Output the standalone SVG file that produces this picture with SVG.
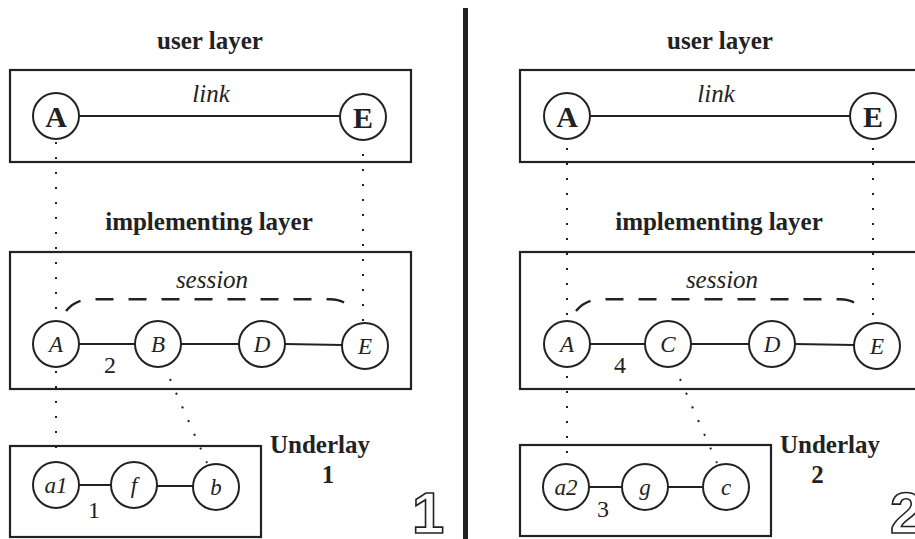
<svg xmlns="http://www.w3.org/2000/svg" width="915" height="539" viewBox="0 0 915 539">
<style>
.box{fill:none;stroke:#222;stroke-width:2.2}
.node circle{fill:#fff;stroke:#222;stroke-width:2}
.edge{stroke:#222;stroke-width:2;fill:none}
.dot{stroke:#222;stroke-width:2;stroke-dasharray:2 13;fill:none}
.dash{stroke:#222;stroke-width:2.4;stroke-dasharray:18 15;fill:none}
text{font-family:'Liberation Serif','Times New Roman',Tinos,'Noto Serif','DejaVu Serif',serif;fill:#222;text-anchor:middle}
.hdr{font-weight:bold;font-size:25px}
.it{font-style:italic;font-size:25px}
.bn{font-weight:bold;font-size:30px}
.lab{font-style:italic;font-size:23px}
.num{font-size:24px}
.out{font-family:'Liberation Sans',Arial,Arimo,Roboto,sans-serif;font-weight:bold;font-size:58px;fill:#fff;stroke:#222;stroke-width:1.6;text-anchor:start}
</style>
<rect width="915" height="539" fill="#fff"/>
<line x1="465.5" y1="8" x2="465.5" y2="539" stroke="#222" stroke-width="5"/>
<g id="layers">
<rect class="box" x="10" y="70" width="401" height="92"/>
<rect class="box" x="10" y="252" width="401" height="137"/>
<rect class="box" x="10" y="446" width="251" height="91"/>
<rect class="box" x="520" y="70" width="401" height="92"/>
<rect class="box" x="520" y="252" width="401" height="137"/>
<rect class="box" x="520" y="445" width="251" height="91"/>
<text class="hdr" x="210" y="49">user layer</text>
<text class="hdr" x="720" y="49">user layer</text>
<text class="hdr" x="209" y="230">implementing layer</text>
<text class="hdr" x="719" y="230">implementing layer</text>
<text class="hdr" x="320" y="453">Underlay</text>
<text class="hdr" x="328" y="483">1</text>
<text class="hdr" x="830" y="453">Underlay</text>
<text class="hdr" x="817.5" y="483">2</text>
<text class="out" x="412" y="533">1</text>
<text class="out" x="890" y="533">2</text>
</g>
<g id="connectors">
<line class="edge" x1="79" y1="116" x2="340" y2="116"/>
<line class="edge" x1="79" y1="344" x2="135" y2="344"/>
<line class="edge" x1="181" y1="344" x2="239" y2="344"/>
<line class="edge" x1="285" y1="344" x2="342" y2="345"/>
<line class="edge" x1="79" y1="485" x2="111" y2="485"/>
<line class="edge" x1="157" y1="486" x2="193" y2="486"/>
<line class="edge" x1="590" y1="116" x2="850" y2="116"/>
<line class="edge" x1="590" y1="344" x2="645" y2="344"/>
<line class="edge" x1="691" y1="344" x2="749" y2="344"/>
<line class="edge" x1="795" y1="344" x2="854" y2="345"/>
<line class="edge" x1="589" y1="487" x2="622" y2="487"/>
<line class="edge" x1="668" y1="487" x2="703" y2="487"/>
<path class="dot" d="M56 142V312M56 371V449M363 154V322M170 379L207 463"/>
<path class="dot" d="M567 148V318M567 376V455M873 148V320M680 379L717 463"/>
<path class="dash" d="M66 311C72 304 79 299.5 92 299.3L330 299.3C342 299.5 348 304 354 311"/>
<path class="dash" d="M576 311C582 304 589 299.5 602 299.3L840 299.3C852 299.5 858 304 864 311"/>
<text class="it" x="211" y="102">link</text>
<text class="it" x="716" y="102">link</text>
<text class="it" x="212" y="288">session</text>
<text class="it" x="722" y="288">session</text>
<text class="num" x="110" y="373">2</text>
<text class="num" x="620" y="373">4</text>
<text class="num" x="94" y="518">1</text>
<text class="num" x="603" y="517">3</text>
</g>
<g id="n-user-A-1" class="node"><circle cx="56" cy="116" r="23"/><text class="bn" x="56" y="127">A</text></g>
<g id="n-user-E-1" class="node"><circle cx="363" cy="117" r="23"/><text class="bn" x="363" y="128">E</text></g>
<g id="n-impl-A-1" class="node"><circle cx="56" cy="344" r="23"/><text class="lab" x="56" y="352">A</text></g>
<g id="n-impl-B-1" class="node"><circle cx="158" cy="344" r="23"/><text class="lab" x="158" y="352">B</text></g>
<g id="n-impl-D-1" class="node"><circle cx="262" cy="344" r="23"/><text class="lab" x="262" y="352">D</text></g>
<g id="n-impl-E-1" class="node"><circle cx="365" cy="346" r="23"/><text class="lab" x="365" y="354">E</text></g>
<g id="n-under-a1" class="node"><circle cx="56" cy="485" r="23"/><text class="lab" x="56" y="493">a1</text></g>
<g id="n-under-f" class="node"><circle cx="134" cy="485" r="23"/><text class="lab" x="134" y="493">f</text></g>
<g id="n-under-b" class="node"><circle cx="216" cy="487" r="23"/><text class="lab" x="216" y="495">b</text></g>
<g id="n-user-A-2" class="node"><circle cx="567" cy="116" r="23"/><text class="bn" x="567" y="127">A</text></g>
<g id="n-user-E-2" class="node"><circle cx="873" cy="116" r="23"/><text class="bn" x="873" y="127">E</text></g>
<g id="n-impl-A-2" class="node"><circle cx="567" cy="344" r="23"/><text class="lab" x="567" y="352">A</text></g>
<g id="n-impl-C-2" class="node"><circle cx="668" cy="344" r="23"/><text class="lab" x="668" y="352">C</text></g>
<g id="n-impl-D-2" class="node"><circle cx="772" cy="344" r="23"/><text class="lab" x="772" y="352">D</text></g>
<g id="n-impl-E-2" class="node"><circle cx="877" cy="346" r="23"/><text class="lab" x="877" y="354">E</text></g>
<g id="n-under-a2" class="node"><circle cx="566" cy="487" r="23"/><text class="lab" x="566" y="495">a2</text></g>
<g id="n-under-g" class="node"><circle cx="645" cy="487" r="23"/><text class="lab" x="645" y="495">g</text></g>
<g id="n-under-c" class="node"><circle cx="726" cy="487" r="23"/><text class="lab" x="726" y="495">c</text></g>
</svg>
